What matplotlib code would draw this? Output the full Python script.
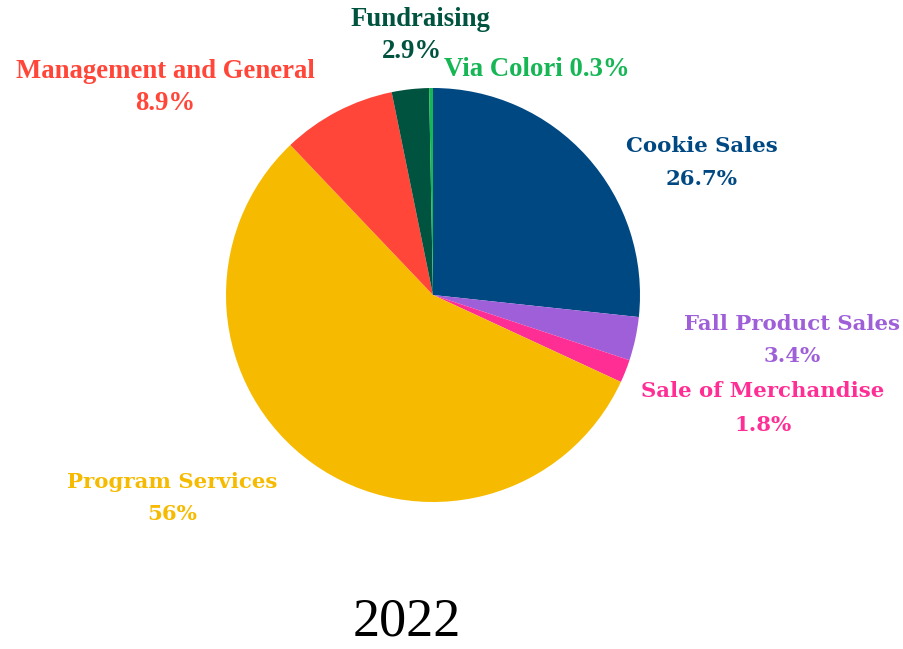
import matplotlib
matplotlib.use("Agg")
import matplotlib.pyplot as plt

labels = ["Cookie Sales", "Fall Product Sales", "Sale of Merchandise",
          "Program Services", "Management and General", "Fundraising", "Via Colori"]
values = [26.7, 3.4, 1.8, 56, 8.9, 2.9, 0.3]
pct_text = ["26.7%", "3.4%", "1.8%", "56%", "8.9%", "2.9%", "0.3%"]
colors = ["#004882", "#9f5fd8", "#ff2e95", "#f6bb00", "#ff4639", "#00533f", "#16b654"]
year = "2022"

W, H = 904, 649
fig = plt.figure(figsize=(W / 100, H / 100), dpi=100)
ax = fig.add_axes([0, 0, 1, 1])
ax.set_xlim(0, W)
ax.set_ylim(0, H)
ax.set_aspect("equal")
ax.axis("off")

ax.pie(values, colors=colors, startangle=90, counterclock=False,
       center=(433, H - 295), radius=207, frame=True,
       wedgeprops=dict(linewidth=0))
ax.axis("off")

wide = dict(family="DejaVu Serif", weight="bold", fontsize=15.3, ha="center", va="center")
narrow = dict(family="Liberation Serif", weight="bold", fontsize=19.3,
              ha="center", va="center")

# label name / value positions in pixels (x, y from top)
pos = {
    "Cookie Sales": ((702, 146), (702, 179), wide),
    "Fall Product Sales": ((792, 324), (792, 356), wide),
    "Sale of Merchandise": ((763, 391), (763, 425), wide),
    "Program Services": ((172, 482), (172, 514), wide),
    "Management and General": ((165, 71), (165, 103), narrow),
    "Fundraising": ((420, 20), (412, 52), narrow),
}
for name, pct, col in zip(labels, pct_text, colors):
    if name == "Via Colori":
        ax.text(537, H - 70, f"{name} {pct}", color=col, **narrow)
        continue
    (x1, y1), (x2, y2), st = pos[name]
    ax.text(x1, H - y1, name, color=col, **st)
    ax.text(x2, H - y2, pct, color=col, **st)

ax.text(407, H - 622, year, family="Liberation Serif", fontsize=39,
        ha="center", va="center", color="black")

fig.savefig("out.png", dpi=100)
